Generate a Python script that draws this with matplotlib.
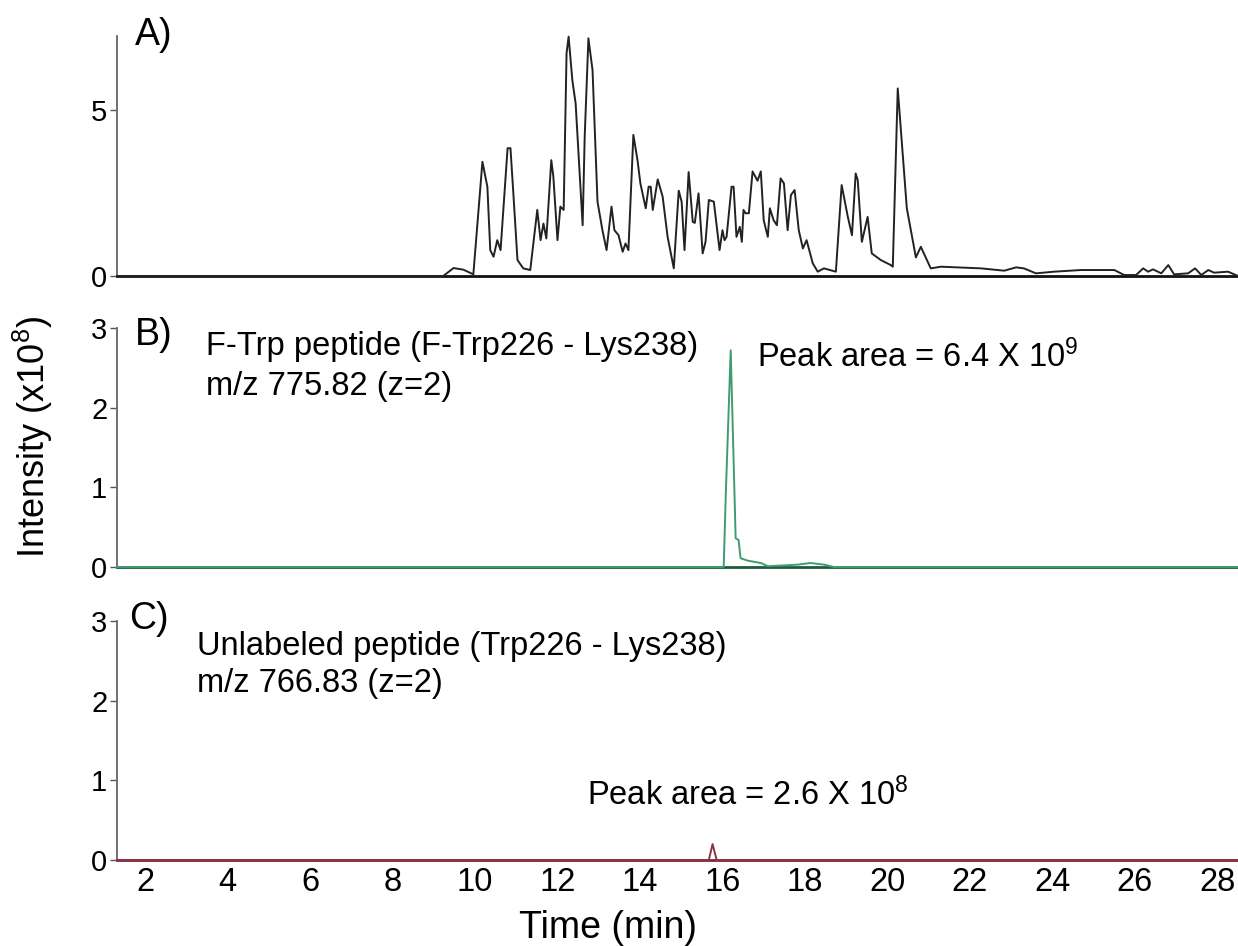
import matplotlib
matplotlib.use("Agg")
import matplotlib.pyplot as plt

plt.rcParams['font.family'] = ['Liberation Sans', 'DejaVu Sans']
plt.rcParams['mathtext.default'] = 'regular'

# panel A: total ion chromatogram (x10^8)
tic_time = [1.32, 9.23, 9.48, 9.72, 9.96, 10.18, 10.30, 10.37, 10.45, 10.54, 10.62,
            10.79, 10.86, 10.93, 11.03, 11.17, 11.34, 11.51, 11.59, 11.66, 11.73,
            11.85, 11.90, 12.00, 12.07, 12.15, 12.22, 12.27, 12.36, 12.44, 12.51,
            12.61, 12.66, 12.75, 12.85, 12.97, 13.09, 13.19, 13.31, 13.38, 13.48,
            13.58, 13.65, 13.72, 13.84, 13.94, 14.01, 14.14, 14.21, 14.26, 14.31,
            14.43, 14.55, 14.67, 14.82, 14.94, 15.01, 15.08, 15.18, 15.28, 15.33,
            15.42, 15.52, 15.59, 15.67, 15.79, 15.93, 16.00, 16.05, 16.10, 16.22,
            16.27, 16.34, 16.42, 16.47, 16.51, 16.56, 16.64, 16.73, 16.85, 16.93,
            17.00, 17.10, 17.15, 17.24, 17.32, 17.41, 17.49, 17.58, 17.66, 17.75,
            17.85, 17.95, 18.04, 18.19, 18.31, 18.46, 18.75, 18.89, 19.04, 19.14,
            19.23, 19.28, 19.38, 19.52, 19.62, 19.84, 20.08, 20.13, 20.25, 20.47,
            20.69, 20.81, 21.05, 21.30, 22.27, 22.83, 23.12, 23.31, 23.60, 24.04,
            24.69, 25.50, 25.74, 26.03, 26.20, 26.32, 26.44, 26.64, 26.81, 26.95,
            27.29, 27.46, 27.61, 27.78, 27.92, 28.26, 28.50]
tic_int = [0.0, 0.0, 0.24, 0.19, 0.05, 3.44, 2.69, 0.78, 0.58, 1.08, 0.78,
           3.85, 3.85, 2.49, 0.48, 0.23, 0.18, 1.99, 1.08, 1.58, 1.13,
           3.49, 2.99, 1.08, 2.09, 1.99, 6.71, 7.21, 5.90, 5.20, 3.69,
           1.53, 4.20, 7.16, 6.20, 2.24, 1.38, 0.78, 2.09, 1.38, 1.23,
           0.73, 0.98, 0.78, 4.25, 3.49, 2.79, 2.04, 2.69, 2.69, 1.99,
           2.91, 2.39, 1.18, 0.23, 2.57, 2.24, 0.78, 3.13, 1.63, 1.60,
           2.49, 0.68, 1.03, 2.29, 2.24, 0.78, 1.38, 1.08, 1.18, 2.69,
           2.69, 1.18, 1.48, 1.03, 1.99, 1.89, 1.89, 3.15, 2.87, 3.15,
           1.68, 1.18, 2.04, 1.68, 1.53, 2.94, 2.79, 1.38, 2.44, 2.59,
           1.38, 0.83, 1.08, 0.38, 0.13, 0.23, 0.13, 2.74, 1.78, 1.23,
           3.09, 2.89, 1.03, 1.78, 0.68, 0.48, 0.33, 0.28, 5.65, 2.04,
           0.56, 0.88, 0.23, 0.28, 0.23, 0.16, 0.26, 0.23, 0.08, 0.13,
           0.18, 0.18, 0.03, 0.03, 0.23, 0.13, 0.20, 0.08, 0.33, 0.05,
           0.08, 0.23, 0.03, 0.18, 0.10, 0.13, 0.0]

# panel B: F-Trp peptide, m/z 775.82
ftrp_time = [1.32, 16.03, 16.08, 16.20, 16.32, 16.39, 16.44, 16.61, 16.93, 17.10,
             17.49, 17.83, 18.14, 18.46, 18.70, 28.50]
ftrp_int = [0.0, 0.0, 0.9, 2.72, 0.36, 0.34, 0.11, 0.08, 0.05, 0.01,
            0.02, 0.03, 0.05, 0.03, 0.0, 0.0]

# panel C: unlabeled peptide, m/z 766.83
unl_time = [1.32, 15.67, 15.76, 15.86, 28.50]
unl_int = [0.0, 0.0, 0.2, 0.0, 0.0]

xticks = list(range(2, 29, 2))
W, H = 1238, 946


def frac(x, y):
    return x / W, 1 - y / H


fig = plt.figure(figsize=(12.38, 9.46), dpi=100)
left = 117 / W
width = (W - 117) / W

axA = fig.add_axes([left, (H - 276) / H, width, 240 / H])
axB = fig.add_axes([left, (H - 567) / H, width, 239 / H])
axC = fig.add_axes([left, (H - 860) / H, width, 239 / H])

panels = [
    (axA, tic_time, tic_int, '#222222', '#111111', (0, 7.23), [0, 5]),
    (axB, ftrp_time, ftrp_int, '#3e9c70', '#1e5a40', (0, 3), [0, 1, 2, 3]),
    (axC, unl_time, unl_int, '#8e3346', '#7a2638', (0, 3), [0, 1, 2, 3]),
]
for ax, t, v, col, basecol, ylim, yt in panels:
    ax.plot(t, v, color=col, lw=1.4, clip_on=False, zorder=3)
    ax.set_xlim(1.32, 28.5)
    ax.set_ylim(*ylim)
    ax.set_yticks(yt)
    ax.spines['top'].set_visible(False)
    ax.spines['right'].set_visible(False)
    ax.spines['left'].set_color('#666666')
    ax.spines['left'].set_linewidth(1.3)
    ax.spines['bottom'].set_color(basecol)
    ax.spines['bottom'].set_linewidth(2.0)
    ax.tick_params(axis='y', direction='out', length=5, width=1, color='#555555',
                   labelsize=21, pad=2)
    ax.tick_params(axis='x', length=0, labelsize=23.5, pad=5)
    ax.set_xticks(xticks)
    ax.patch.set_visible(False)

axA.tick_params(axis='x', labelbottom=False)
axB.tick_params(axis='x', labelbottom=False)

# panel letters
fig.text(*frac(135, 45), 'A)', fontsize=27, va='baseline', ha='left')
fig.text(*frac(135, 345), 'B)', fontsize=27, va='baseline', ha='left')
fig.text(*frac(129, 629), 'C)', fontsize=27, va='baseline', ha='left')

# annotations
fs = 23.5
fig.text(*frac(206, 355), 'F-Trp peptide (F-Trp226 - Lys238)', fontsize=fs, va='baseline')
fig.text(*frac(206, 395), 'm/z 775.82 (z=2)', fontsize=fs, va='baseline')
fig.text(*frac(757, 367), 'Peak area = 6.4 X 10$^{9}$', fontsize=fs, va='baseline')
fig.text(*frac(197, 655), 'Unlabeled peptide (Trp226 - Lys238)', fontsize=fs, va='baseline')
fig.text(*frac(197, 692), 'm/z 766.83 (z=2)', fontsize=fs, va='baseline')
fig.text(*frac(587, 805), 'Peak area = 2.6 X 10$^{8}$', fontsize=fs, va='baseline')

fig.text(*frac(33, 437), 'Intensity (x10$^{8}$)', fontsize=26, rotation=90,
         ha='center', va='center')
fig.text(*frac(519, 938), 'Time (min)', fontsize=27, ha='left', va='baseline')

fig.savefig('out.png', dpi=100)
